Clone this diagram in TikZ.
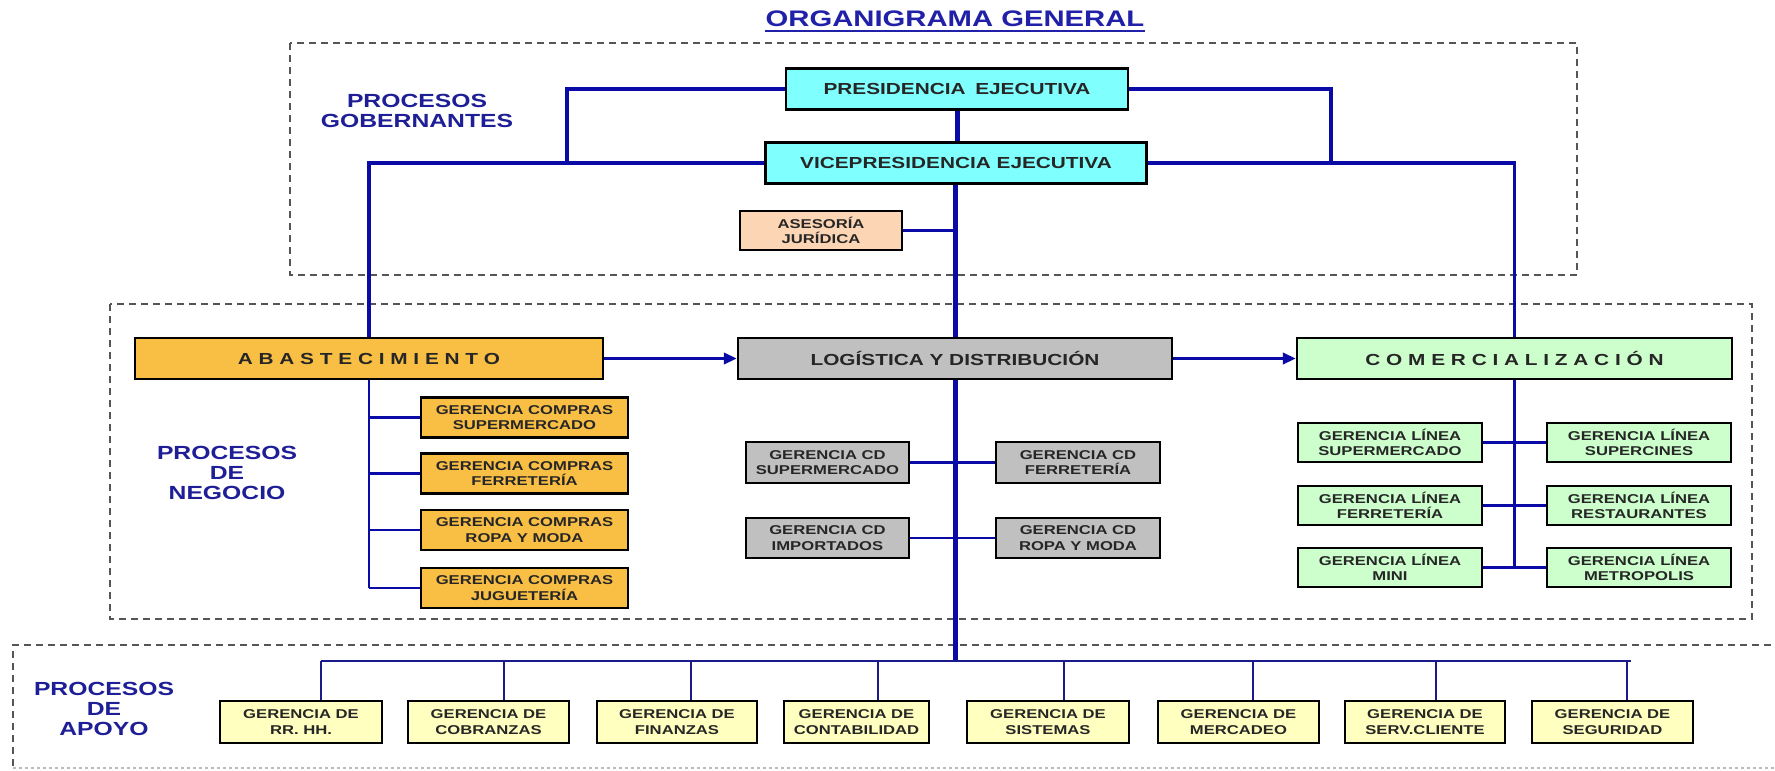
\documentclass[tikz,border=0pt]{standalone}
\usepackage{fontspec}
\setmainfont{Liberation Sans}[FakeStretch=1.3]
\usetikzlibrary{arrows.meta,calc}
\definecolor{cyanfill}{HTML}{80FFFF}
\definecolor{peachfill}{HTML}{FCD5B4}
\definecolor{orangefill}{HTML}{F9BF45}
\definecolor{grayfill}{HTML}{C0C0C0}
\definecolor{greenfill}{HTML}{CCFFCC}
\definecolor{yellowfill}{HTML}{FFFFC0}
\definecolor{lineblue}{HTML}{0A0AA6}
\definecolor{supblue}{HTML}{1A1A8C}
\definecolor{labelblue}{HTML}{1E1E96}
\definecolor{titleblue}{HTML}{2020A8}
\definecolor{boxtext}{HTML}{262626}
\definecolor{regiongray}{HTML}{555555}
\definecolor{faintgray}{HTML}{BBBBBB}
\begin{document}
\begin{tikzpicture}[x=1pt,y=-1pt,
  box/.style={draw=black, line width=2.2pt, inner sep=0pt, align=center, text=boxtext},
  mainbox/.style={box, minimum height=41pt, font=\fontsize{16}{19}\selectfont\bfseries},
  subbox/.style={box, minimum height=40pt, font=\fontsize{12.8}{15.5}\selectfont\bfseries},
  lbl/.style={text=labelblue, align=center, inner sep=0pt, font=\fontsize{19}{20}\selectfont\bfseries},
  conn/.style={draw=lineblue, line width=3.5pt},
  trunk/.style={draw=lineblue, line width=5pt},
  sconn/.style={draw=lineblue, line width=2.6pt},
  supconn/.style={draw=supblue, line width=2.6pt},
  region/.style={draw=regiongray, line width=1.4pt, dash pattern=on 7pt off 5pt},
  faintregion/.style={draw=faintgray, line width=1.2pt, dash pattern=on 3pt off 3pt},
  tip/.style={-{Triangle[length=13pt,width=11pt]}}
]
\useasboundingbox[fill=white] (0,0) rectangle (1775,771);

% regions
\draw[region] (290,43) rectangle (1577,275);
\draw[region] (110,304) rectangle (1752,619);
\draw[region] (1795,645) -- (13,645) -- (13,768);
\draw[faintregion] (13,768) -- (1795,768);

% title
\node[anchor=base, text=titleblue, inner sep=0pt, font=\fontsize{22.5}{26}\selectfont\bfseries] (title) at (955,27) {ORGANIGRAMA GENERAL};
\draw[titleblue, line width=2pt] ([yshift=-4pt]title.base west) -- ([yshift=-4pt]title.base east);

% labels
\node[lbl] (gob) at (417,111) {PROCESOS\\GOBERNANTES};
\node[lbl] (neg) at (227,473) {PROCESOS\\DE\\NEGOCIO};
\node[lbl] (apo) at (104,709) {PROCESOS\\DE\\APOYO};

% governing
\node[mainbox, fill=cyanfill, minimum width=342pt] (pres) at (957,89) {PRESIDENCIA\hspace{0.6em}EJECUTIVA};
\node[mainbox, fill=cyanfill, minimum width=381pt] (vice) at (956,163) {VICEPRESIDENCIA EJECUTIVA};
\node[subbox, fill=peachfill, minimum width=162pt, minimum height=39pt] (ases) at (821,230.5) {ASESORÍA\\JURÍDICA};

% business
\node[mainbox, fill=orangefill, minimum width=468pt] (abast) at (369,358.5) {A B A S T E C I M I E N T O};
\node[mainbox, fill=grayfill, minimum width=434pt] (log) at (955,358.5) {LOGÍSTICA Y DISTRIBUCIÓN};
\node[mainbox, fill=greenfill, minimum width=435pt] (com) at (1514.5,358.5) {C O M E R C I A L I Z A C I Ó N};

\node[subbox, fill=orangefill, minimum width=207pt] (c1) at (524.5,417.5) {GERENCIA COMPRAS\\SUPERMERCADO};
\node[subbox, fill=orangefill, minimum width=207pt] (c2) at (524.5,473.5) {GERENCIA COMPRAS\\FERRETERÍA};
\node[subbox, fill=orangefill, minimum width=207pt] (c3) at (524.5,530) {GERENCIA COMPRAS\\ROPA Y MODA};
\node[subbox, fill=orangefill, minimum width=207pt] (c4) at (524.5,588) {GERENCIA COMPRAS\\JUGUETERÍA};

\node[subbox, fill=grayfill, minimum width=163pt, minimum height=41pt] (cd1) at (827.5,462.5) {GERENCIA CD\\SUPERMERCADO};
\node[subbox, fill=grayfill, minimum width=164pt, minimum height=41pt] (cd2) at (1078,462.5) {GERENCIA CD\\FERRETERÍA};
\node[subbox, fill=grayfill, minimum width=163pt] (cd3) at (827.5,538) {GERENCIA CD\\IMPORTADOS};
\node[subbox, fill=grayfill, minimum width=164pt] (cd4) at (1078,538) {GERENCIA CD\\ROPA Y MODA};

\node[subbox, fill=greenfill, minimum width=184pt, minimum height=39pt] (l1) at (1390,442.5) {GERENCIA LÍNEA\\SUPERMERCADO};
\node[subbox, fill=greenfill, minimum width=184pt, minimum height=39pt] (l2) at (1639,442.5) {GERENCIA LÍNEA\\SUPERCINES};
\node[subbox, fill=greenfill, minimum width=184pt, minimum height=39pt] (l3) at (1390,505.5) {GERENCIA LÍNEA\\FERRETERÍA};
\node[subbox, fill=greenfill, minimum width=184pt, minimum height=39pt] (l4) at (1639,505.5) {GERENCIA LÍNEA\\RESTAURANTES};
\node[subbox, fill=greenfill, minimum width=184pt, minimum height=39pt] (l5) at (1390,567.5) {GERENCIA LÍNEA\\MINI};
\node[subbox, fill=greenfill, minimum width=184pt, minimum height=39pt] (l6) at (1639,567.5) {GERENCIA LÍNEA\\METROPOLIS};

% support
\node[subbox, fill=yellowfill, minimum width=162pt, minimum height=42pt] (s1) at (301,722) {GERENCIA DE\\RR. HH.};
\node[subbox, fill=yellowfill, minimum width=161pt, minimum height=42pt] (s2) at (488.5,722) {GERENCIA DE\\COBRANZAS};
\node[subbox, fill=yellowfill, minimum width=160pt, minimum height=42pt] (s3) at (677,722) {GERENCIA DE\\FINANZAS};
\node[subbox, fill=yellowfill, minimum width=145pt, minimum height=42pt] (s4) at (856.5,722) {GERENCIA DE\\CONTABILIDAD};
\node[subbox, fill=yellowfill, minimum width=162pt, minimum height=42pt] (s5) at (1048,722) {GERENCIA DE\\SISTEMAS};
\node[subbox, fill=yellowfill, minimum width=161pt, minimum height=42pt] (s6) at (1238.5,722) {GERENCIA DE\\MERCADEO};
\node[subbox, fill=yellowfill, minimum width=160pt, minimum height=42pt] (s7) at (1425,722) {GERENCIA DE\\SERV.CLIENTE};
\node[subbox, fill=yellowfill, minimum width=161pt, minimum height=42pt] (s8) at (1612.5,722) {GERENCIA DE\\SEGURIDAD};

% connectors: governing
\coordinate (jl) at (567,163);
\coordinate (jr) at (1331,163);
\draw[conn] (pres.west) -| (jl);
\draw[conn] (pres.east) -| (jr);
\draw[trunk] (pres.south) -- (pres.south |- vice.north);
\draw[conn] (vice.west) -| (abast.north);
\draw[conn] (vice.east) -| (com.north);
\draw[trunk] (log.north |- vice.south) -- (log.north);
\draw[sconn] (ases.east) -- (ases.east -| log.north);

% business arrows
\draw[conn, tip] (abast.east) -- (log.west);
\draw[conn, tip] (log.east) -- (com.west);

% abastecimiento branch
\draw[sconn] (abast.south) -- (abast.south |- c4.west);
\foreach \c in {c1,c2,c3,c4} \draw[sconn] (abast.south |- \c.west) -- (\c.west);

% logistics branch
\draw[sconn] (cd1.east) -- (cd2.west);
\draw[sconn] (cd3.east) -- (cd4.west);

% comercializacion branch
\draw[sconn] (com.south) -- (com.south |- l5.east);
\draw[sconn] (l1.east) -- (l2.west);
\draw[sconn] (l3.east) -- (l4.west);
\draw[sconn] (l5.east) -- (l6.west);

% support bus
\foreach \i/\x in {1/321,2/504,3/691,4/878,5/1064,6/1253,7/1436,8/1627} \coordinate (d\i) at (\x,661);
\draw[trunk] (log.south) -- (log.south |- d1);
\draw[supconn] (d1) -- ([xshift=4pt]d8);
\foreach \i in {1,...,8} \draw[supconn] (d\i) -- (d\i |- s\i.north);
\end{tikzpicture}
\end{document}
